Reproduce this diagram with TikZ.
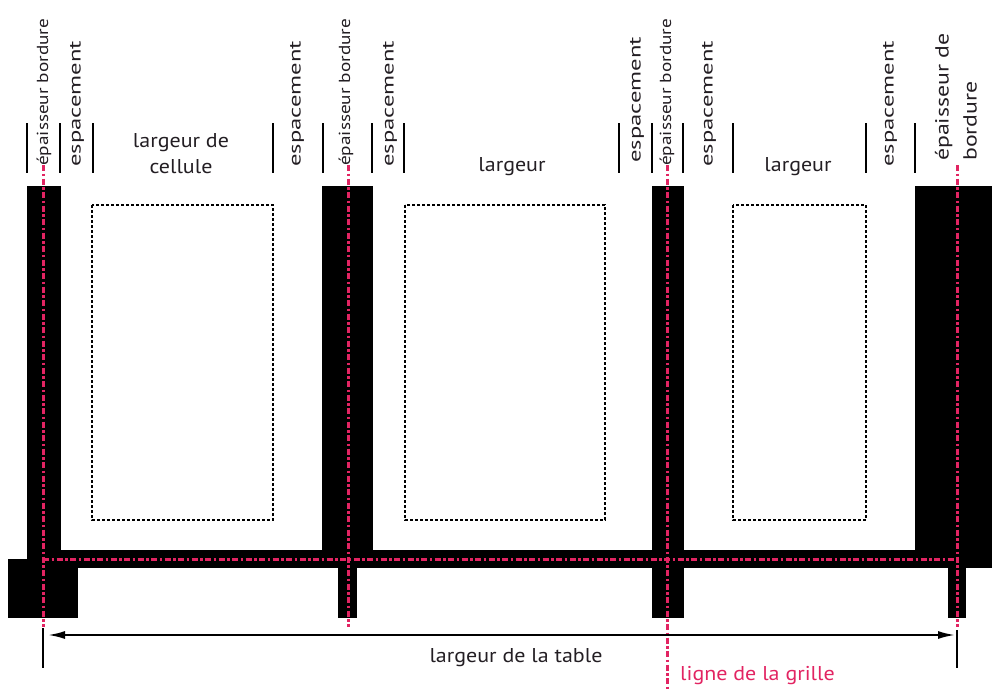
\documentclass[tikz,border=0pt]{standalone}
\usepackage{fontspec}
\setmainfont{PT Sans}
\newfontfamily\espfont[FakeStretch=1.45]{PT Sans}
\newfontfamily\bordfont[FakeStretch=1.2]{PT Sans}
\newfontfamily\borddefont[FakeStretch=1.25]{PT Sans}
\newfontfamily\horzfont[FakeStretch=1.1]{PT Sans}
\usetikzlibrary{arrows.meta}
\definecolor{grille}{RGB}{226,36,98}
\definecolor{texte}{RGB}{35,30,35}

\begin{document}
\begin{tikzpicture}[
    x=1pt, y=-1pt,
    every node/.style={text=texte, inner sep=0pt},
    esplabel/.style={rotate=90, anchor=west, font=\espfont\fontsize{17}{20}\selectfont},
    bordlabel/.style={rotate=90, anchor=west, font=\bordfont\fontsize{16}{19}\selectfont},
    larglabel/.style={font=\horzfont\fontsize{20}{26}\selectfont, align=center},
    tick/.style={draw, line width=2pt},
    gridline/.style={draw=grille, line width=3pt, dash pattern=on 6pt off 2.5pt on 2.5pt off 2.5pt},
    content/.style={draw, line width=2pt, dash pattern=on 3pt off 2pt},
    cote/.style={draw, line width=1.5pt}
  ]
  \useasboundingbox (0,0) rectangle (992,689);

  % bordures du tableau
  \fill (27,186) rectangle (61,568);
  \fill (27,550) rectangle (992,568);
  \fill (8,559) rectangle (78,618);
  \fill (322,186) rectangle (373,550);
  \fill (338,568) rectangle (357,618);
  \fill (652,186) rectangle (684,618);
  \fill (915,186) rectangle (992,568);
  \fill (948,568) rectangle (966,618);

  % contenu des cellules
  \draw[content] (92,205) rectangle (273,520);
  \draw[content] (405,205) rectangle (605,520);
  \draw[content] (733,205) rectangle (866,520);

  % lignes de la grille
  \coordinate (g1) at (43,165);   \coordinate (g1b) at (43,627);
  \coordinate (g2) at (348,165);  \coordinate (g2b) at (348,627);
  \coordinate (g3) at (667,165);  \coordinate (g3b) at (667,689);
  \coordinate (g4) at (957,165);  \coordinate (g4b) at (957,627);
  \draw[gridline] (g1) -- (g1b);
  \draw[gridline] (g2) -- (g2b);
  \draw[gridline] (g3) -- (g3b);
  \draw[gridline] (g4) -- (g4b);
  \draw[gridline] (43,559) -- (957,559);

  % reperes du haut
  \foreach \x in {27,60,93,273,323,372,404,619,652,683,733,866,915}
    \draw[tick] (\x,123) -- (\x,173);

  \node[bordlabel] (bord1) at (44,166) {épaisseur bordure};
  \node[esplabel] (esp1) at (77,167) {espacement};
  \node[larglabel] (larg1) at (181,154) {largeur de\\cellule};
  \node[esplabel] (esp2) at (297,167) {espacement};
  \node[bordlabel] (bord2) at (346,166) {épaisseur bordure};
  \node[esplabel] (esp3) at (390,167) {espacement};
  \node[larglabel] (larg2) at (512,167) {largeur};
  \node[esplabel] (esp4) at (637,163) {espacement};
  \node[bordlabel] (bord3) at (667,166) {épaisseur bordure};
  \node[esplabel] (esp5) at (709,167) {espacement};
  \node[larglabel] (larg3) at (798,167) {largeur};
  \node[esplabel] (esp6) at (890,167) {espacement};
  \node[rotate=90, anchor=west, align=left,
        font=\borddefont\fontsize{19}{28}\selectfont] (bord4) at (956,161) {épaisseur de\\bordure};

  % largeur de la table
  \coordinate (tblL) at (43,635);
  \coordinate (tblR) at (957,635);
  \draw[cote] (43,628) -- (43,668);
  \draw[cote] (957,630) -- (957,668);
  \draw[{Latex[length=17pt,width=8pt]}-{Latex[length=17pt,width=8pt]}, line width=2pt,
        shorten <=5pt, shorten >=2pt] (tblL) -- (tblR);
  \node[larglabel] (table) at (516,658) {largeur de la table};
  \node[larglabel, anchor=west, text=grille] (grille) at (680,676) {ligne de la grille};
\end{tikzpicture}
\end{document}
